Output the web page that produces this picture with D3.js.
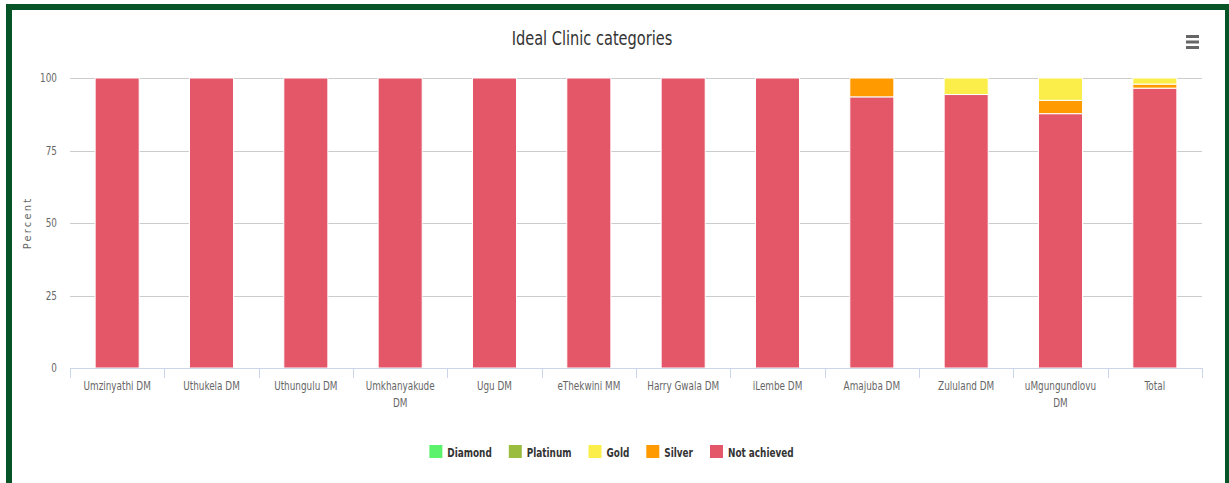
<!DOCTYPE html>
<html>
<head>
<meta charset="utf-8">
<script src="https://cdn.jsdelivr.net/npm/d3@7/dist/d3.min.js"></script>
<style>
  html, body { margin: 0; padding: 0; background: #fff; }
  svg { display: block; }
  text { font-family: "DejaVu Sans Condensed", "Liberation Sans Narrow", sans-serif; }
</style>
</head>
<body>
<svg id="chart" width="1229" height="483"></svg>
<script>
const categories = ["Umzinyathi DM", "Uthukela DM", "Uthungulu DM", "Umkhanyakude DM", "Ugu DM", "eThekwini MM", "Harry Gwala DM", "iLembe DM", "Amajuba DM", "Zululand DM", "uMgungundlovu DM", "Total"];
const seriesNames = ["Diamond", "Platinum", "Gold", "Silver", "Not achieved"];
const diamond     = [0, 0, 0, 0, 0, 0, 0, 0, 0, 0, 0, 0];
const platinum    = [0, 0, 0, 0, 0, 0, 0, 0, 0, 0, 0, 0];
const gold        = [0, 0, 0, 0, 0, 0, 0, 0, 0, 5.7, 7.7, 2.1];
const silver      = [0, 0, 0, 0, 0, 0, 0, 0, 6.5, 0, 4.6, 1.4];
const notAchieved = [100, 100, 100, 100, 100, 100, 100, 100, 93.5, 94.3, 87.7, 96.5];
const yTicks = [0, 25, 50, 75, 100];
const colors = { "Diamond": "#5cf26b", "Platinum": "#9bbd3f", "Gold": "#fbee4a", "Silver": "#ff9a00", "Not achieved": "#e35768" };

const svg = d3.select("#chart");

// frame border
const green = "#075427";
svg.append("rect").attr("x", 6).attr("y", 4).attr("width", 1223).attr("height", 6).attr("fill", green);
svg.append("rect").attr("x", 6).attr("y", 4).attr("width", 6).attr("height", 479).attr("fill", green);
svg.append("rect").attr("x", 1225).attr("y", 4).attr("width", 4).attr("height", 479).attr("fill", green);

const pLeft = 70, pRight = 1202, pTop = 78, pBottom = 368;

const x = d3.scaleBand().domain(categories).range([pLeft, pRight]).padding(0);
const y = d3.scaleLinear().domain([0, 100]).range([pBottom, pTop]);

// gridlines
svg.append("g").selectAll("line").data(yTicks.filter(t => t > 0)).join("line")
  .attr("x1", pLeft).attr("x2", pRight)
  .attr("y1", d => Math.round(y(d)) + 0.5).attr("y2", d => Math.round(y(d)) + 0.5)
  .attr("stroke", "#cccccc").attr("stroke-width", 1);

// y tick labels (condensed)
svg.append("g").selectAll("text").data(yTicks).join("text")
  .attr("transform", d => `translate(57,${y(d)}) scale(0.82,1)`)
  .attr("dy", "0.35em")
  .attr("text-anchor", "end").attr("font-size", 12).attr("fill", "#666")
  .text(d => d);

// y axis title
svg.append("text")
  .attr("transform", `translate(31,${(pTop + pBottom) / 2}) rotate(-90)`)
  .attr("text-anchor", "middle").attr("font-size", 11).attr("fill", "#666")
  .attr("letter-spacing", "2.2px")
  .text("Percent");

// stacked data
const table = categories.map((c, i) => ({
  cat: c,
  "Diamond": diamond[i], "Platinum": platinum[i], "Gold": gold[i], "Silver": silver[i], "Not achieved": notAchieved[i]
}));
const stackKeys = ["Not achieved", "Silver", "Gold", "Platinum", "Diamond"];
const stacked = d3.stack().keys(stackKeys)(table);

const bw = x.bandwidth() * 0.467;
const off = (x.bandwidth() - bw) / 2;

svg.append("g").selectAll("g").data(stacked).join("g")
  .attr("fill", s => colors[s.key])
  .selectAll("rect").data(s => s.filter(d => d[1] - d[0] > 0)).join("rect")
  .attr("x", d => x(d.data.cat) + off)
  .attr("width", bw)
  .attr("y", d => y(d[1]))
  .attr("height", d => y(d[0]) - y(d[1]))
  .attr("stroke", "#ffffff").attr("stroke-width", 1);

// x axis
const xa = svg.append("g");
xa.append("line").attr("x1", pLeft).attr("x2", pRight).attr("y1", pBottom + 0.5).attr("y2", pBottom + 0.5)
  .attr("stroke", "#ccd6eb").attr("stroke-width", 1);
const bounds = categories.map(c => x(c)).concat([pRight]);
xa.selectAll("line.tick").data(bounds).join("line").attr("class", "tick")
  .attr("x1", d => Math.round(d) + 0.5).attr("x2", d => Math.round(d) + 0.5)
  .attr("y1", pBottom).attr("y2", pBottom + 10)
  .attr("stroke", "#ccd6eb").attr("stroke-width", 1);

const labelLines = c => {
  if (c === "Umkhanyakude DM") return ["Umkhanyakude", "DM"];
  if (c === "uMgungundlovu DM") return ["uMgungundlovu", "DM"];
  return [c];
};
const xl = xa.selectAll("text.lab").data(categories).join("text").attr("class", "lab")
  .attr("transform", d => `translate(${x(d) + x.bandwidth() / 2},390) scale(0.82,1)`)
  .attr("text-anchor", "middle").attr("font-size", 12).attr("fill", "#666");
xl.selectAll("tspan").data(d => labelLines(d)).join("tspan")
  .attr("x", 0).attr("dy", (d, i) => i === 0 ? 0 : 17)
  .text(d => d);

// title
svg.append("text").attr("transform", "translate(592,45) scale(0.81,1)").attr("text-anchor", "middle")
  .attr("font-size", 20).attr("fill", "#333").text("Ideal Clinic categories");

// menu icon
svg.append("g").selectAll("rect").data([0, 1, 2]).join("rect")
  .attr("x", 1186).attr("y", d => 35 + d * 5.5).attr("width", 13).attr("height", 3)
  .attr("fill", "#666");

// legend
const lsx = 0.76;
const lg = svg.append("g");
const items = lg.selectAll("g").data(seriesNames).join("g");
items.append("rect").attr("width", 13).attr("height", 13).attr("y", 445)
  .attr("fill", d => colors[d]);
items.append("text").attr("transform", `translate(18,457) scale(${lsx},1)`)
  .attr("font-size", 13).attr("font-weight", "bold")
  .attr("fill", "#333").text(d => d);
const widths = [];
items.each(function () { widths.push(d3.select(this).select("text").node().getComputedTextLength() * lsx); });
const total = widths.reduce((a, w) => a + 18 + w, 0) + 17 * (widths.length - 1);
let cx = 611.5 - total / 2;
items.each(function (d, i) {
  d3.select(this).attr("transform", `translate(${cx},0)`);
  cx += 18 + widths[i] + 17;
});
</script>
</body>
</html>
